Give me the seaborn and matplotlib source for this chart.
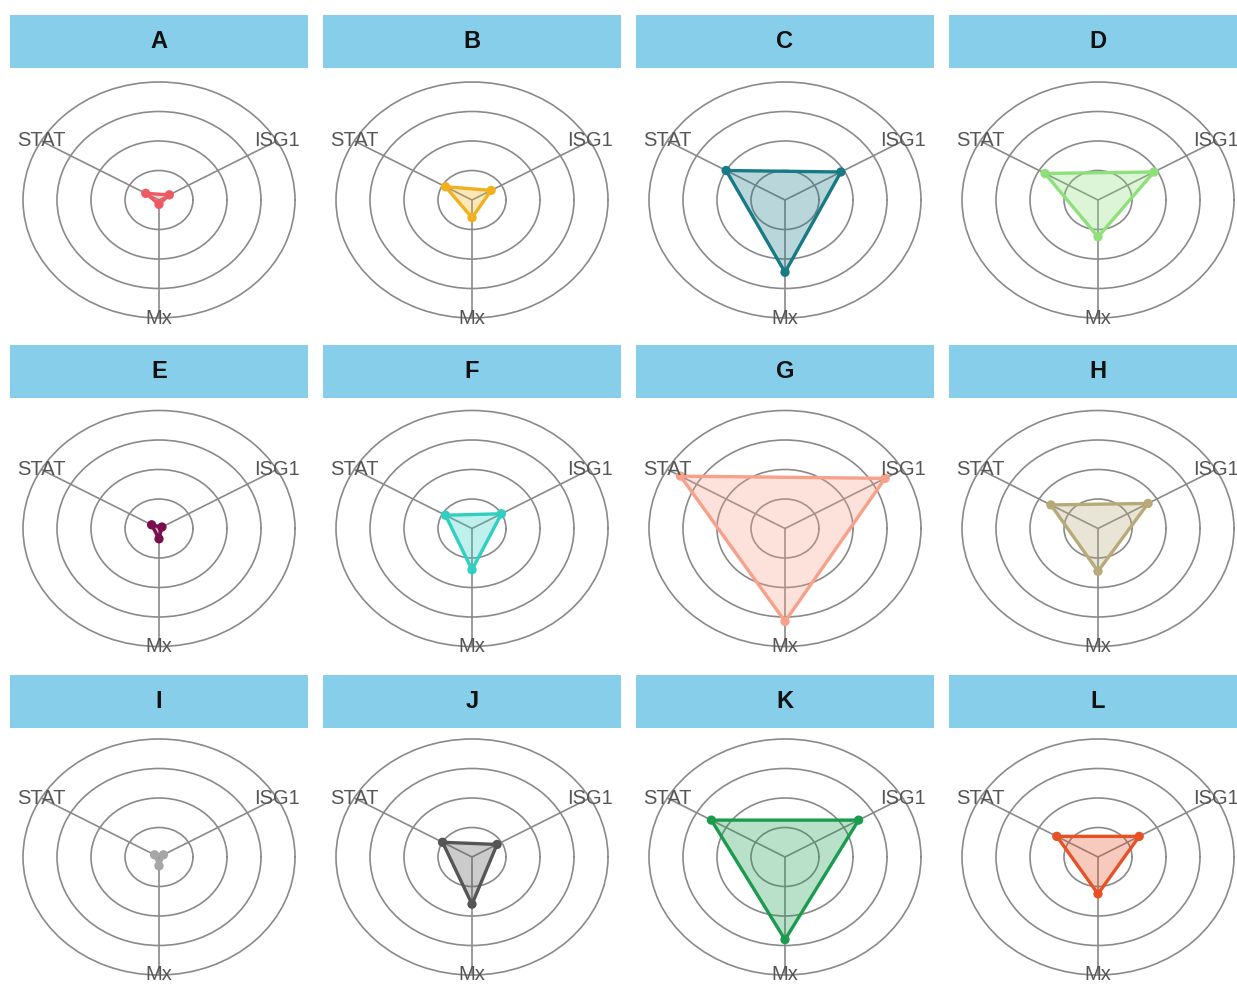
import numpy as np
import matplotlib
matplotlib.use("Agg")
import matplotlib.pyplot as plt
import seaborn as sns

# Panel names and their scores on the three markers
panels = ["A", "B", "C", "D", "E", "F", "G", "H", "I", "J", "K", "L"]
markers = ["ISG1", "STAT", "Mx"]
isg1 = [0.35, 0.65, 1.9, 1.9, 0.10, 1.0, 3.4, 1.7, 0.15, 0.85, 2.5, 1.4]
stat = [0.45, 0.9, 2.0, 1.8, 0.25, 0.9, 3.55, 1.6, 0.15, 1.0, 2.5, 1.4]
mx = [0.15, 0.6, 2.45, 1.25, 0.35, 1.4, 3.15, 1.45, 0.3, 1.6, 2.8, 1.25]
colors = ["#EF5A62", "#F0B11D", "#177A85", "#8EE07A", "#7A0D4E", "#2FD0C2",
          "#F7A08A", "#B8AA78", "#A6A6A6", "#555555", "#1A9B4E", "#E65125"]
rings = [1, 2, 3, 4]

sns.set_theme(style="white")
plt.rcParams["font.family"] = ["Liberation Sans", "DejaVu Sans"]

W, H = 1237, 985
fig = plt.figure(figsize=(W / 100, H / 100), dpi=100)
fig.patch.set_facecolor("white")

grid_col = "#8a8a8a"
n = len(markers)
# first spoke points up-right (30 degrees), the others follow counter-clockwise
theta = np.array([np.pi / 6 + 2 * np.pi * i / n for i in range(n)])
theta_closed = np.append(theta, theta[0] + 2 * np.pi)

for k, name in enumerate(panels):
    row, col = divmod(k, 4)
    cx = 159 + 313 * col
    cy = 200 + 328.5 * row
    rx, ry = 136, 118

    # title strip
    st_top = 15 + 330 * row
    sax = fig.add_axes([(cx - 149) / W, 1 - (st_top + 53) / H, 298 / W, 53 / H])
    sax.set_facecolor("#87CEEB")
    sax.set_xticks([])
    sax.set_yticks([])
    for s in sax.spines.values():
        s.set_visible(False)
    sax.text(0.5, 0.5, name, ha="center", va="center", fontsize=17,
             fontweight="bold", color="#111111", transform=sax.transAxes)

    # radar
    ax = fig.add_axes([(cx - rx) / W, 1 - (cy + ry) / H, 2 * rx / W, 2 * ry / H],
                      projection="polar")
    ax.set_aspect("auto")
    ax.set_facecolor("white")

    vals = np.array([isg1[k], stat[k], mx[k]])
    vals_closed = np.append(vals, vals[0])
    c = colors[k]
    ax.fill(theta_closed, vals_closed, color=c, alpha=0.3, zorder=3, linewidth=0)
    sns.lineplot(x=theta_closed, y=vals_closed, sort=False, estimator=None,
                 ax=ax, color=c, linewidth=2.4, zorder=4)
    sns.scatterplot(x=theta, y=vals, ax=ax, color=c, s=45, edgecolor="none",
                    zorder=5, legend=False)
    ax.set_xlabel("")
    ax.set_ylabel("")

    ax.set_xlim(0, 2 * np.pi)
    ax.set_ylim(0, max(rings))
    ax.set_rgrids(rings[:-1], labels=[""] * (len(rings) - 1))
    ax.set_xticks(theta)
    ax.set_xticklabels([""] * n)
    ax.set_axisbelow(True)
    ax.grid(True, color=grid_col, linewidth=1.2)
    ax.spines["polar"].set_visible(True)
    ax.spines["polar"].set_color(grid_col)
    ax.spines["polar"].set_linewidth(1.2)

    for t, lab in zip(theta, markers):
        ax.text(t, max(rings), lab, ha="center", va="center", fontsize=14.5,
                color="#555555", clip_on=False, zorder=6)

fig.savefig("out.png", dpi=100, facecolor="white")
